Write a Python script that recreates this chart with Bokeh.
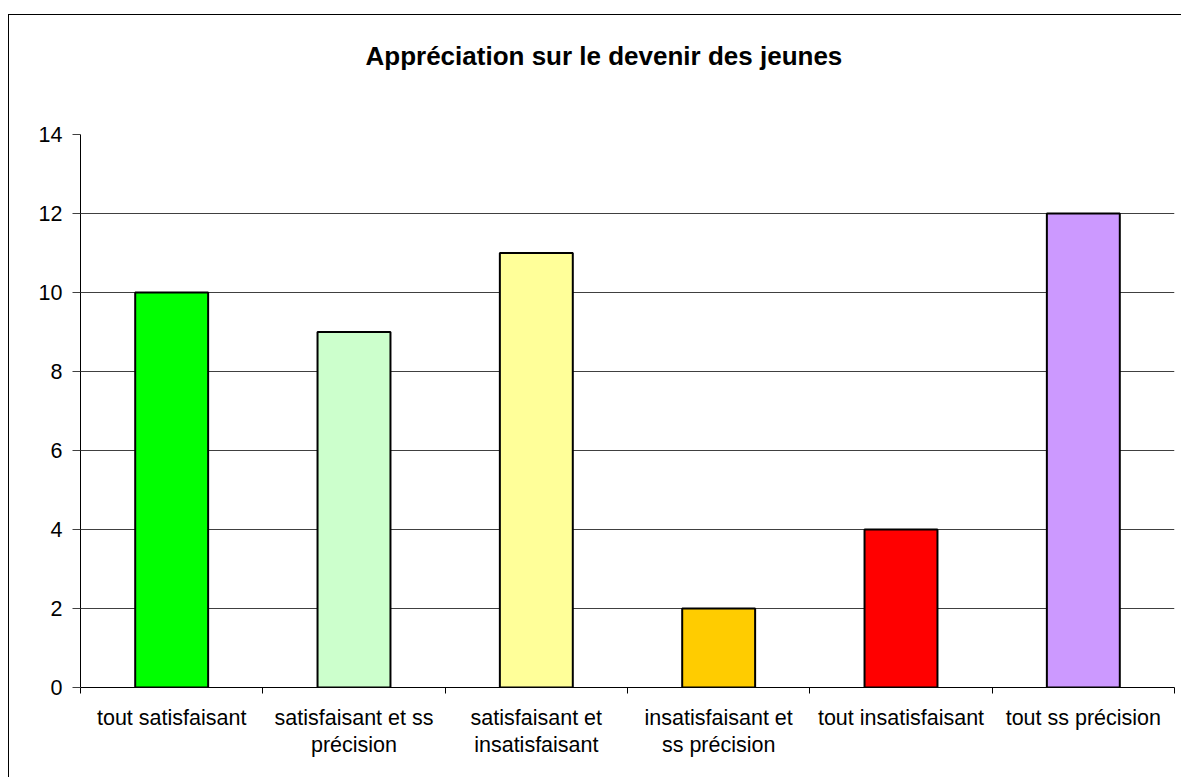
import numpy as np
from bokeh.plotting import figure
from bokeh.models import FixedTicker, Range1d, ColumnDataSource, Title
from bokeh.embed import file_html
from bokeh.resources import INLINE

categories = ["tout satisfaisant", "satisfaisant et ss\nprécision", "satisfaisant et\ninsatisfaisant",
              "insatisfaisant et\nss précision", "tout insatisfaisant", "tout ss précision"]
values = [10, 9, 11, 2, 4, 12]
colors = ["#00FF00", "#CCFFCC", "#FFFF99", "#FFCC00", "#FF0000", "#CC99FF"]
y_ticks = [0, 2, 4, 6, 8, 10, 12, 14]
title_text = "Appréciation sur le devenir des jeunes"

xs = [i + 0.5 for i in range(len(categories))]
src = ColumnDataSource(dict(x=xs, top=values, color=colors))

p = figure(width=1173, height=763, output_backend="svg", toolbar_location=None, title=None,
           x_range=Range1d(0, len(categories)), y_range=Range1d(0, 14),
           min_border_left=71, min_border_right=8, min_border_top=119, min_border_bottom=91)
p.margin = (14, 0, 0, 8)
p.styles = {"border-top": "1px solid black", "border-left": "1px solid black"}

p.vbar(x="x", top="top", bottom=0, width=0.4, fill_color="color", line_color="black",
       line_width=2, source=src)

# spacer between the title and the plot area
spacer = Title(text=" ", text_font_size="1px", standoff=61, text_color="white")
p.add_layout(spacer, "above")
t = Title(text=title_text, align="left", text_font="Liberation Sans",
          text_font_size="26px", text_font_style="bold", text_color="black", offset=285, standoff=0)
p.add_layout(t, "above")

p.outline_line_color = None
p.xgrid.grid_line_color = None
p.ygrid.grid_line_color = "#404040"
p.ygrid.grid_line_width = 1
p.ygrid.ticker = FixedTicker(ticks=y_ticks)

ya = p.yaxis[0]
ya.ticker = FixedTicker(ticks=y_ticks)
ya.axis_line_color = "black"
ya.major_tick_line_color = "#404040"
ya.major_tick_out = 8
ya.major_tick_in = 0
ya.minor_tick_line_color = None
ya.major_label_text_font = "Liberation Sans"
ya.major_label_text_font_size = "21.5px"
ya.major_label_text_color = "black"
ya.major_label_standoff = 10

xa = p.xaxis[0]
xa.ticker = FixedTicker(ticks=xs, minor_ticks=list(range(len(categories) + 1)))
xa.major_label_overrides = {x: c for x, c in zip(xs, categories)}
xa.axis_line_color = "black"
xa.major_tick_line_color = None
xa.minor_tick_line_color = "black"
xa.minor_tick_out = 6
xa.minor_tick_in = 0
xa.major_label_text_font = "Liberation Sans"
xa.major_label_text_font_size = "21.5px"
xa.major_label_text_color = "black"
xa.major_label_standoff = 12
xa.major_label_text_line_height = 1.16

open("out.html", "w").write(file_html(p, INLINE))
